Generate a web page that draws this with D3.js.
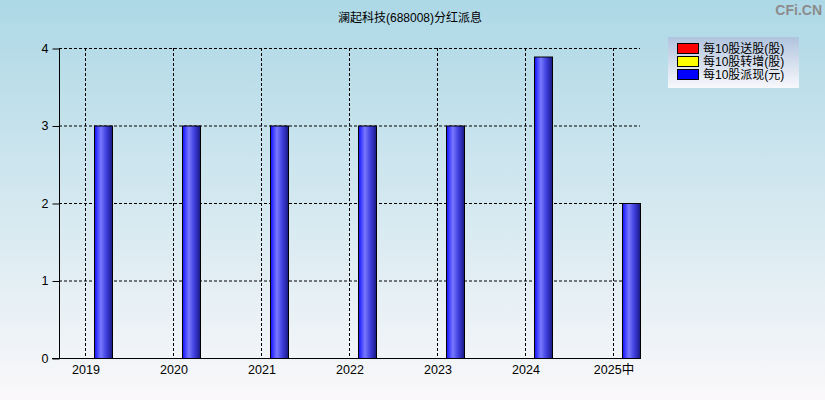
<!DOCTYPE html>
<html>
<head>
<meta charset="utf-8">
<script src="https://cdn.jsdelivr.net/npm/d3@7"></script>
<style>
  body { margin: 0; padding: 0; overflow: hidden; }
  text { font-family: "Liberation Sans", Arial, "Noto Sans CJK SC", sans-serif; }
</style>
</head>
<body>
<div id="chart"></div>
<script>
// chart data
const years = ["2019", "2020", "2021", "2022", "2023", "2024", "2025中"];
const seriesNames = ["每10股送股(股)", "每10股转增(股)", "每10股派现(元)"];
const songGu = [0, 0, 0, 0, 0, 0, 0];
const zhuanZeng = [0, 0, 0, 0, 0, 0, 0];
const paiXian = [3, 3, 3, 3, 3, 3.89, 2];
const yTicks = [0, 1, 2, 3, 4];
const seriesColors = ["#ff0000", "#ffff00", "#0000ff"];

const W = 825, H = 400;
const plot = { left: 59, right: 640, top: 48, bottom: 358 };

const svg = d3.select("#chart").append("svg")
  .attr("width", W).attr("height", H);

const defs = svg.append("defs");
const bg = defs.append("linearGradient").attr("id", "bg")
  .attr("x1", 0).attr("y1", 0).attr("x2", 0).attr("y2", 1);
bg.append("stop").attr("offset", "0%").attr("stop-color", "#add8e6");
bg.append("stop").attr("offset", "100%").attr("stop-color", "#faf8fa");

const lg = defs.append("linearGradient").attr("id", "lg")
  .attr("x1", 0).attr("y1", 0).attr("x2", 0).attr("y2", 1);
lg.append("stop").attr("offset", "0%").attr("stop-color", "#b0c4de");
lg.append("stop").attr("offset", "100%").attr("stop-color", "#f8f8fc");

const barGrad = defs.append("linearGradient").attr("id", "barGrad")
  .attr("x1", 0).attr("y1", 0).attr("x2", 1).attr("y2", 0);
barGrad.append("stop").attr("offset", "0%").attr("stop-color", "#1010ff");
barGrad.append("stop").attr("offset", "35%").attr("stop-color", "#7878ff");
barGrad.append("stop").attr("offset", "65%").attr("stop-color", "#4040e0");
barGrad.append("stop").attr("offset", "100%").attr("stop-color", "#181880");

svg.append("rect").attr("width", W).attr("height", H).attr("fill", "url(#bg)");

// title + watermark
svg.append("text").attr("x", 410).attr("y", 22).attr("text-anchor", "middle")
  .style("font-size", "12px").attr("fill", "#000")
  .text("澜起科技(688008)分红派息");
svg.append("text").attr("x", 822).attr("y", 15).attr("text-anchor", "end")
  .style("font-size", "14px").style("font-weight", "bold").attr("fill", "#8c8c8c")
  .text("CFi.CN");

// scales
const x = d3.scalePoint().domain(years).range([85, 613]);
const inner = d3.scaleBand().domain(seriesNames).range([-27, 27]);
const y = d3.scaleLinear().domain([0, 4]).range([plot.bottom, plot.top]);

// grid
const grid = svg.append("g").attr("stroke", "#000").attr("stroke-dasharray", "3,2");
grid.selectAll("line.h").data(yTicks.filter(d => d > 0)).join("line")
  .attr("x1", plot.left).attr("x2", plot.right)
  .attr("y1", d => y(d) + 0.5).attr("y2", d => y(d) + 0.5);
grid.selectAll("line.v").data(years).join("line")
  .attr("x1", d => x(d) + 0.5).attr("x2", d => x(d) + 0.5)
  .attr("y1", plot.top).attr("y2", plot.bottom);

// bars
const seriesData = [songGu, zhuanZeng, paiXian];
seriesData.forEach((vals, si) => {
  svg.append("g").selectAll("rect").data(vals.map((v, i) => ({ year: years[i], v })).filter(d => d.v > 0))
    .join("rect")
    .attr("x", d => x(d.year) + inner(seriesNames[si]) + 0.5)
    .attr("y", d => y(d.v) + 0.5)
    .attr("width", inner.bandwidth())
    .attr("height", d => y(0) - y(d.v))
    .attr("fill", si === 2 ? "url(#barGrad)" : seriesColors[si])
    .attr("stroke", "#000").attr("stroke-width", 1);
});

// axes
const yAxis = svg.append("g").attr("transform", `translate(${plot.left + 0.5},0)`)
  .call(d3.axisLeft(y).tickValues(yTicks).tickFormat(d3.format("d")).tickSize(7).tickPadding(4));
yAxis.select(".domain").attr("d", `M0,${plot.top}V${plot.bottom + 0.5}`);
yAxis.selectAll("text").style("font-size", "12.5px").attr("fill", "#000");
yAxis.selectAll(".tick line").attr("transform", "translate(0,0.5)");

const xAxis = svg.append("g").attr("transform", `translate(0,${plot.bottom + 0.5})`)
  .call(d3.axisBottom(x).tickSize(0).tickPadding(7));
xAxis.select(".domain").attr("d", `M${plot.left - 7},0H${plot.right}`);
xAxis.selectAll("text").style("font-size", "12.5px").attr("fill", "#000")
  .attr("dx", "0.5");

// legend
const leg = svg.append("g").attr("transform", "translate(668,37)");
leg.append("rect").attr("width", 131).attr("height", 51).attr("fill", "url(#lg)");
seriesNames.forEach((name, i) => {
  leg.append("rect").attr("x", 9.5).attr("y", 6.5 + i * 13).attr("width", 21).attr("height", 10)
    .attr("fill", seriesColors[i]).attr("stroke", "#000");
  leg.append("text").attr("x", 35).attr("y", 16 + i * 13)
    .style("font-size", "12px").attr("fill", "#000").text(name);
});
</script>
</body>
</html>
